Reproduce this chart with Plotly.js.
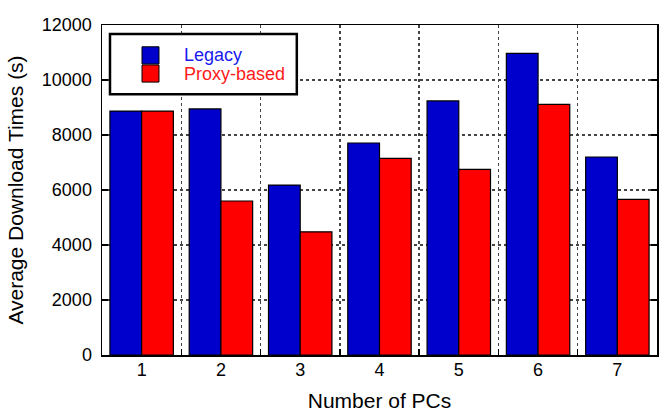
<!DOCTYPE html>
<html>
<head>
<meta charset="utf-8">
<script src="https://cdn.plot.ly/plotly-3.0.1.min.js"></script>
<style>html,body{margin:0;padding:0;background:#fff}#chart{width:660px;height:412px}</style>
</head>
<body>
<div id="chart"></div>
<script>
const categories = [1, 2, 3, 4, 5, 6, 7];
const legacy = [8870, 8950, 6180, 7710, 9240, 10970, 7200];
const proxyBased = [8870, 5600, 4480, 7150, 6750, 9110, 5660];
const seriesNames = ["Legacy", "Proxy-based"];
const yTicks = [0, 2000, 4000, 6000, 8000, 10000, 12000];
const xBoundaries = [1.5, 2.5, 3.5, 4.5, 5.5, 6.5];

const FONT = "Liberation Sans, Arial, sans-serif";
const BLUE = "#0000CC";
const RED = "#FF0000";

const traces = [
  {type: "bar", x: categories, y: legacy, name: seriesNames[0],
   marker: {color: BLUE, line: {color: "#000", width: 1.2}}, showlegend: false},
  {type: "bar", x: categories, y: proxyBased, name: seriesNames[1],
   marker: {color: RED, line: {color: "#000", width: 1.2}}, showlegend: false}
];

const L = {x0: 0.0144, x1: 0.351, y0: 0.79, y1: 0.973};
const shapes = [
  {type: "rect", xref: "paper", yref: "paper", x0: L.x0, x1: L.x1, y0: L.y0, y1: L.y1,
   line: {color: "#000", width: 2.5}, fillcolor: "#fff", layer: "above"},
  {type: "rect", xref: "paper", yref: "paper", x0: 0.0721, x1: 0.1027, y0: 0.882, y1: 0.934,
   line: {color: "#000", width: 1}, fillcolor: BLUE, layer: "above"},
  {type: "rect", xref: "paper", yref: "paper", x0: 0.0721, x1: 0.1027, y0: 0.827, y1: 0.879,
   line: {color: "#000", width: 1}, fillcolor: RED, layer: "above"}
];
const annotations = [
  {xref: "paper", yref: "paper", x: 0.144, y: 0.908, xanchor: "left", yanchor: "middle",
   text: seriesNames[0], showarrow: false, font: {family: FONT, size: 18, color: "#1a1aee"}},
  {xref: "paper", yref: "paper", x: 0.144, y: 0.853, xanchor: "left", yanchor: "middle",
   text: seriesNames[1], showarrow: false, font: {family: FONT, size: 18, color: "#ff1a1a"}}
];

const layout = {
  width: 660, height: 412,
  margin: {l: 102, r: 3, t: 25, b: 57},
  paper_bgcolor: "#fff", plot_bgcolor: "#fff",
  font: {family: FONT, size: 18, color: "#000"},
  barmode: "group", bargap: 0.2, bargroupgap: 0,
  showlegend: false,
  xaxis: {
    range: [0.5, 7.5], tickvals: categories, ticktext: categories.map(String),
    showgrid: false, zeroline: false, ticks: "", showline: true, linecolor: "#000",
    linewidth: 1.5, mirror: true, tickfont: {size: 18}, ticklabelstandoff: -2,
    minor: {tickvals: xBoundaries, showgrid: true, gridcolor: "#444", gridwidth: 1.5,
            griddash: "3px,3px", ticks: "inside", ticklen: 6, tickcolor: "#000", tickwidth: 1.5},
    title: {text: "Number of PCs", font: {size: 21}, standoff: 16}
  },
  yaxis: {
    range: [0, 12000], tickvals: yTicks, ticktext: yTicks.map(String),
    showgrid: true, gridcolor: "#444", gridwidth: 1.5, griddash: "3px,3px",
    zeroline: false, ticks: "inside", ticklen: 6, tickwidth: 1.5, tickcolor: "#000",
    showline: true, linecolor: "#000", linewidth: 1.5, mirror: "ticks",
    tickfont: {size: 18}, ticklabelstandoff: 5,
    title: {text: "Average Download Times (s)", font: {size: 21}, standoff: 12}
  },
  shapes: shapes,
  annotations: annotations
};

Plotly.newPlot("chart", traces, layout, {displayModeBar: false, staticPlot: true});
</script>
</body>
</html>
